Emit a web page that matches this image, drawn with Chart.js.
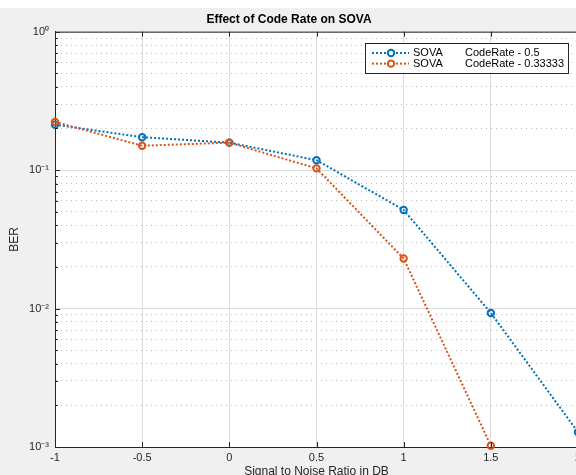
<!DOCTYPE html>
<html>
<head>
<meta charset="utf-8">
<script src="https://cdn.jsdelivr.net/npm/chart.js@4.4.1/dist/chart.umd.min.js"></script>
<style>
  html, body { margin: 0; padding: 0; overflow: hidden; background: #f0f0f0; }
</style>
</head>
<body>
<canvas id="chart" width="600" height="490"></canvas>
<script>
// data
const snr = [-1, -0.5, 0, 0.5, 1, 1.5, 2];
const berHalf = [0.213, 0.173, 0.158, 0.118, 0.0516, 0.0093, 0.00128];
const berThird = [0.223, 0.150, 0.158, 0.103, 0.0230, 0.00102, null];
const seriesNames = ["SOVA", "SOVA"];
const codeRates = ["CodeRate - 0.5", "CodeRate - 0.33333"];
const xTicks = [-1, -0.5, 0, 0.5, 1, 1.5, 2];
const xTickLabels = ["-1", "-0.5", "0", "0.5", "1", "1.5", "2"];
const yDecades = [0.001, 0.01, 0.1, 1];
const yTickLabels = ["10\u207B\u00B3", "10\u207B\u00B2", "10\u207B\u00B9", "10\u2070"];

const blue = "#0072BD";
const orange = "#D95319";
const axisColor = "#262626";

Chart.defaults.font.family = "'Liberation Sans', Arial, sans-serif";
Chart.defaults.color = axisColor;

function isDecade(v) {
  if (!v) return false;
  const l = Math.log10(v);
  return Math.abs(l - Math.round(l)) < 1e-6;
}

const yMinor = [];
yDecades.slice(0, -1).forEach(d => {
  for (let k = 2; k <= 9; k++) yMinor.push(d * k);
});
const yAll = yDecades.concat(yMinor).sort((a, b) => a - b);

const toPoints = (ys) => snr.map((x, i) => ({ x: x, y: ys[i] }));

// gray figure, white axes
const background = {
  id: "background",
  beforeDraw(chart) {
    const { ctx, chartArea: a } = chart;
    ctx.save();
    ctx.fillStyle = "#f0f0f0";
    ctx.fillRect(0, 0, chart.width, chart.height);
    ctx.fillStyle = "#ffffff";
    ctx.fillRect(0, 0, chart.width, 8);
    ctx.fillRect(a.left, a.top, a.right - a.left, a.bottom - a.top);
    ctx.restore();
  }
};

// matlab style box + inward ticks
const axesBox = {
  id: "axesBox",
  afterDatasetsDraw(chart) {
    const { ctx, chartArea: a, scales } = chart;
    ctx.save();
    ctx.strokeStyle = axisColor;
    ctx.lineWidth = 1;
    ctx.beginPath();
    ctx.moveTo(a.left, a.top + 0.5);
    ctx.lineTo(a.right, a.top + 0.5);
    xTicks.forEach(v => {
      const px = Math.round(scales.x.getPixelForValue(v)) + 0.5;
      ctx.moveTo(px, a.bottom);
      ctx.lineTo(px, a.bottom - 5);
      ctx.moveTo(px, a.top);
      ctx.lineTo(px, a.top + 5);
    });
    yAll.forEach(v => {
      const py = Math.round(scales.y.getPixelForValue(v)) + 0.5;
      ctx.moveTo(a.left, py);
      ctx.lineTo(a.left + (isDecade(v) ? 5 : 3), py);
    });
    ctx.stroke();
    ctx.restore();
  }
};

const legendBox = {
  id: "legendBox",
  afterDraw(chart) {
    const ctx = chart.ctx;
    const x0 = 365, y0 = 43, w = 203, h = 30;
    ctx.save();
    ctx.fillStyle = "#ffffff";
    ctx.fillRect(x0, y0, w, h);
    ctx.strokeStyle = axisColor;
    ctx.lineWidth = 1;
    ctx.strokeRect(x0 + 0.5, y0 + 0.5, w, h);
    chart.data.datasets.forEach((ds, i) => {
      const y = y0 + 10 + i * 10.6;
      ctx.strokeStyle = ds.borderColor;
      ctx.lineWidth = 2;
      ctx.setLineDash([2, 2]);
      ctx.beginPath();
      ctx.moveTo(372, y);
      ctx.lineTo(409, y);
      ctx.stroke();
      ctx.setLineDash([]);
      ctx.fillStyle = "#ffffff";
      ctx.beginPath();
      ctx.arc(391, y, 3.2, 0, Math.PI * 2);
      ctx.fill();
      ctx.stroke();
      ctx.fillStyle = "#000000";
      ctx.font = "11px 'Liberation Sans', Arial, sans-serif";
      ctx.textBaseline = "middle";
      ctx.fillText(seriesNames[i], 413, y);
      ctx.fillText(codeRates[i], 465, y);
    });
    ctx.restore();
  }
};

const chart = new Chart(document.getElementById("chart"), {
  type: "line",
  data: {
    datasets: [
      {
        label: seriesNames[0] + " " + codeRates[0],
        data: toPoints(berHalf),
        borderColor: blue,
        borderWidth: 2,
        borderDash: [2, 2],
        pointRadius: 3.2,
        pointBorderWidth: 2,
        pointBackgroundColor: "rgba(255,255,255,0)",
        pointBorderColor: blue,
        tension: 0,
        clip: false,
        order: 1
      },
      {
        label: seriesNames[1] + " " + codeRates[1],
        data: toPoints(berThird),
        borderColor: orange,
        borderWidth: 2,
        borderDash: [2, 2],
        pointRadius: 3.2,
        pointBorderWidth: 2,
        pointBackgroundColor: "rgba(255,255,255,0)",
        pointBorderColor: orange,
        tension: 0,
        clip: false,
        order: 0
      }
    ]
  },
  options: {
    responsive: false,
    animation: false,
    devicePixelRatio: 1,
    layout: { padding: { left: 0, right: 22, top: 0, bottom: 0 } },
    plugins: {
      legend: { display: false },
      tooltip: { enabled: false },
      title: {
        display: true,
        text: "Effect of Code Rate on SOVA",
        color: "#000000",
        font: { size: 12, weight: "bold" },
        padding: { top: 12, bottom: 5.3 }
      }
    },
    scales: {
      x: {
        type: "linear",
        min: -1,
        max: 2,
        afterFit: (s) => { s.height = 43; },
        afterBuildTicks: (s) => { s.ticks = xTicks.map(v => ({ value: v })); },
        ticks: {
          font: { size: 11 },
          color: axisColor,
          padding: 4,
          autoSkip: false,
          maxRotation: 0,
          callback: (v) => {
            const idx = xTicks.indexOf(v);
            return idx >= 0 ? xTickLabels[idx] : "";
          }
        },
        grid: { drawTicks: false, color: "#dcdcdc", lineWidth: 1 },
        border: { display: true, color: axisColor, width: 1 },
        title: {
          display: true,
          text: "Signal to Noise Ratio in DB",
          color: axisColor,
          font: { size: 12 },
          padding: { top: 0, bottom: 10.8 }
        }
      },
      y: {
        type: "logarithmic",
        min: 0.001,
        max: 1,
        afterFit: (s) => { s.width = 55; },
        afterBuildTicks: (s) => { s.ticks = yAll.map(v => ({ value: v, major: isDecade(v) })); },
        ticks: {
          font: { size: 11 },
          color: axisColor,
          padding: 6,
          autoSkip: false,
          callback: (v) => {
            const idx = yDecades.findIndex(d => Math.abs(d - v) / d < 1e-6);
            return idx >= 0 ? yTickLabels[idx] : "";
          }
        },
        grid: {
          drawTicks: false,
          lineWidth: 1,
          color: (c) => (c.tick && !isDecade(c.tick.value)) ? "#bdbdbd" : "#dcdcdc"
        },
        border: {
          display: true,
          color: axisColor,
          width: 1,
          dash: (c) => (c.tick && !isDecade(c.tick.value)) ? [1, 4] : []
        },
        title: {
          display: true,
          text: "BER",
          color: axisColor,
          font: { size: 12 },
          padding: { top: 7, bottom: 0 }
        }
      }
    }
  },
  plugins: [background, axesBox, legendBox]
});
</script>
</body>
</html>
